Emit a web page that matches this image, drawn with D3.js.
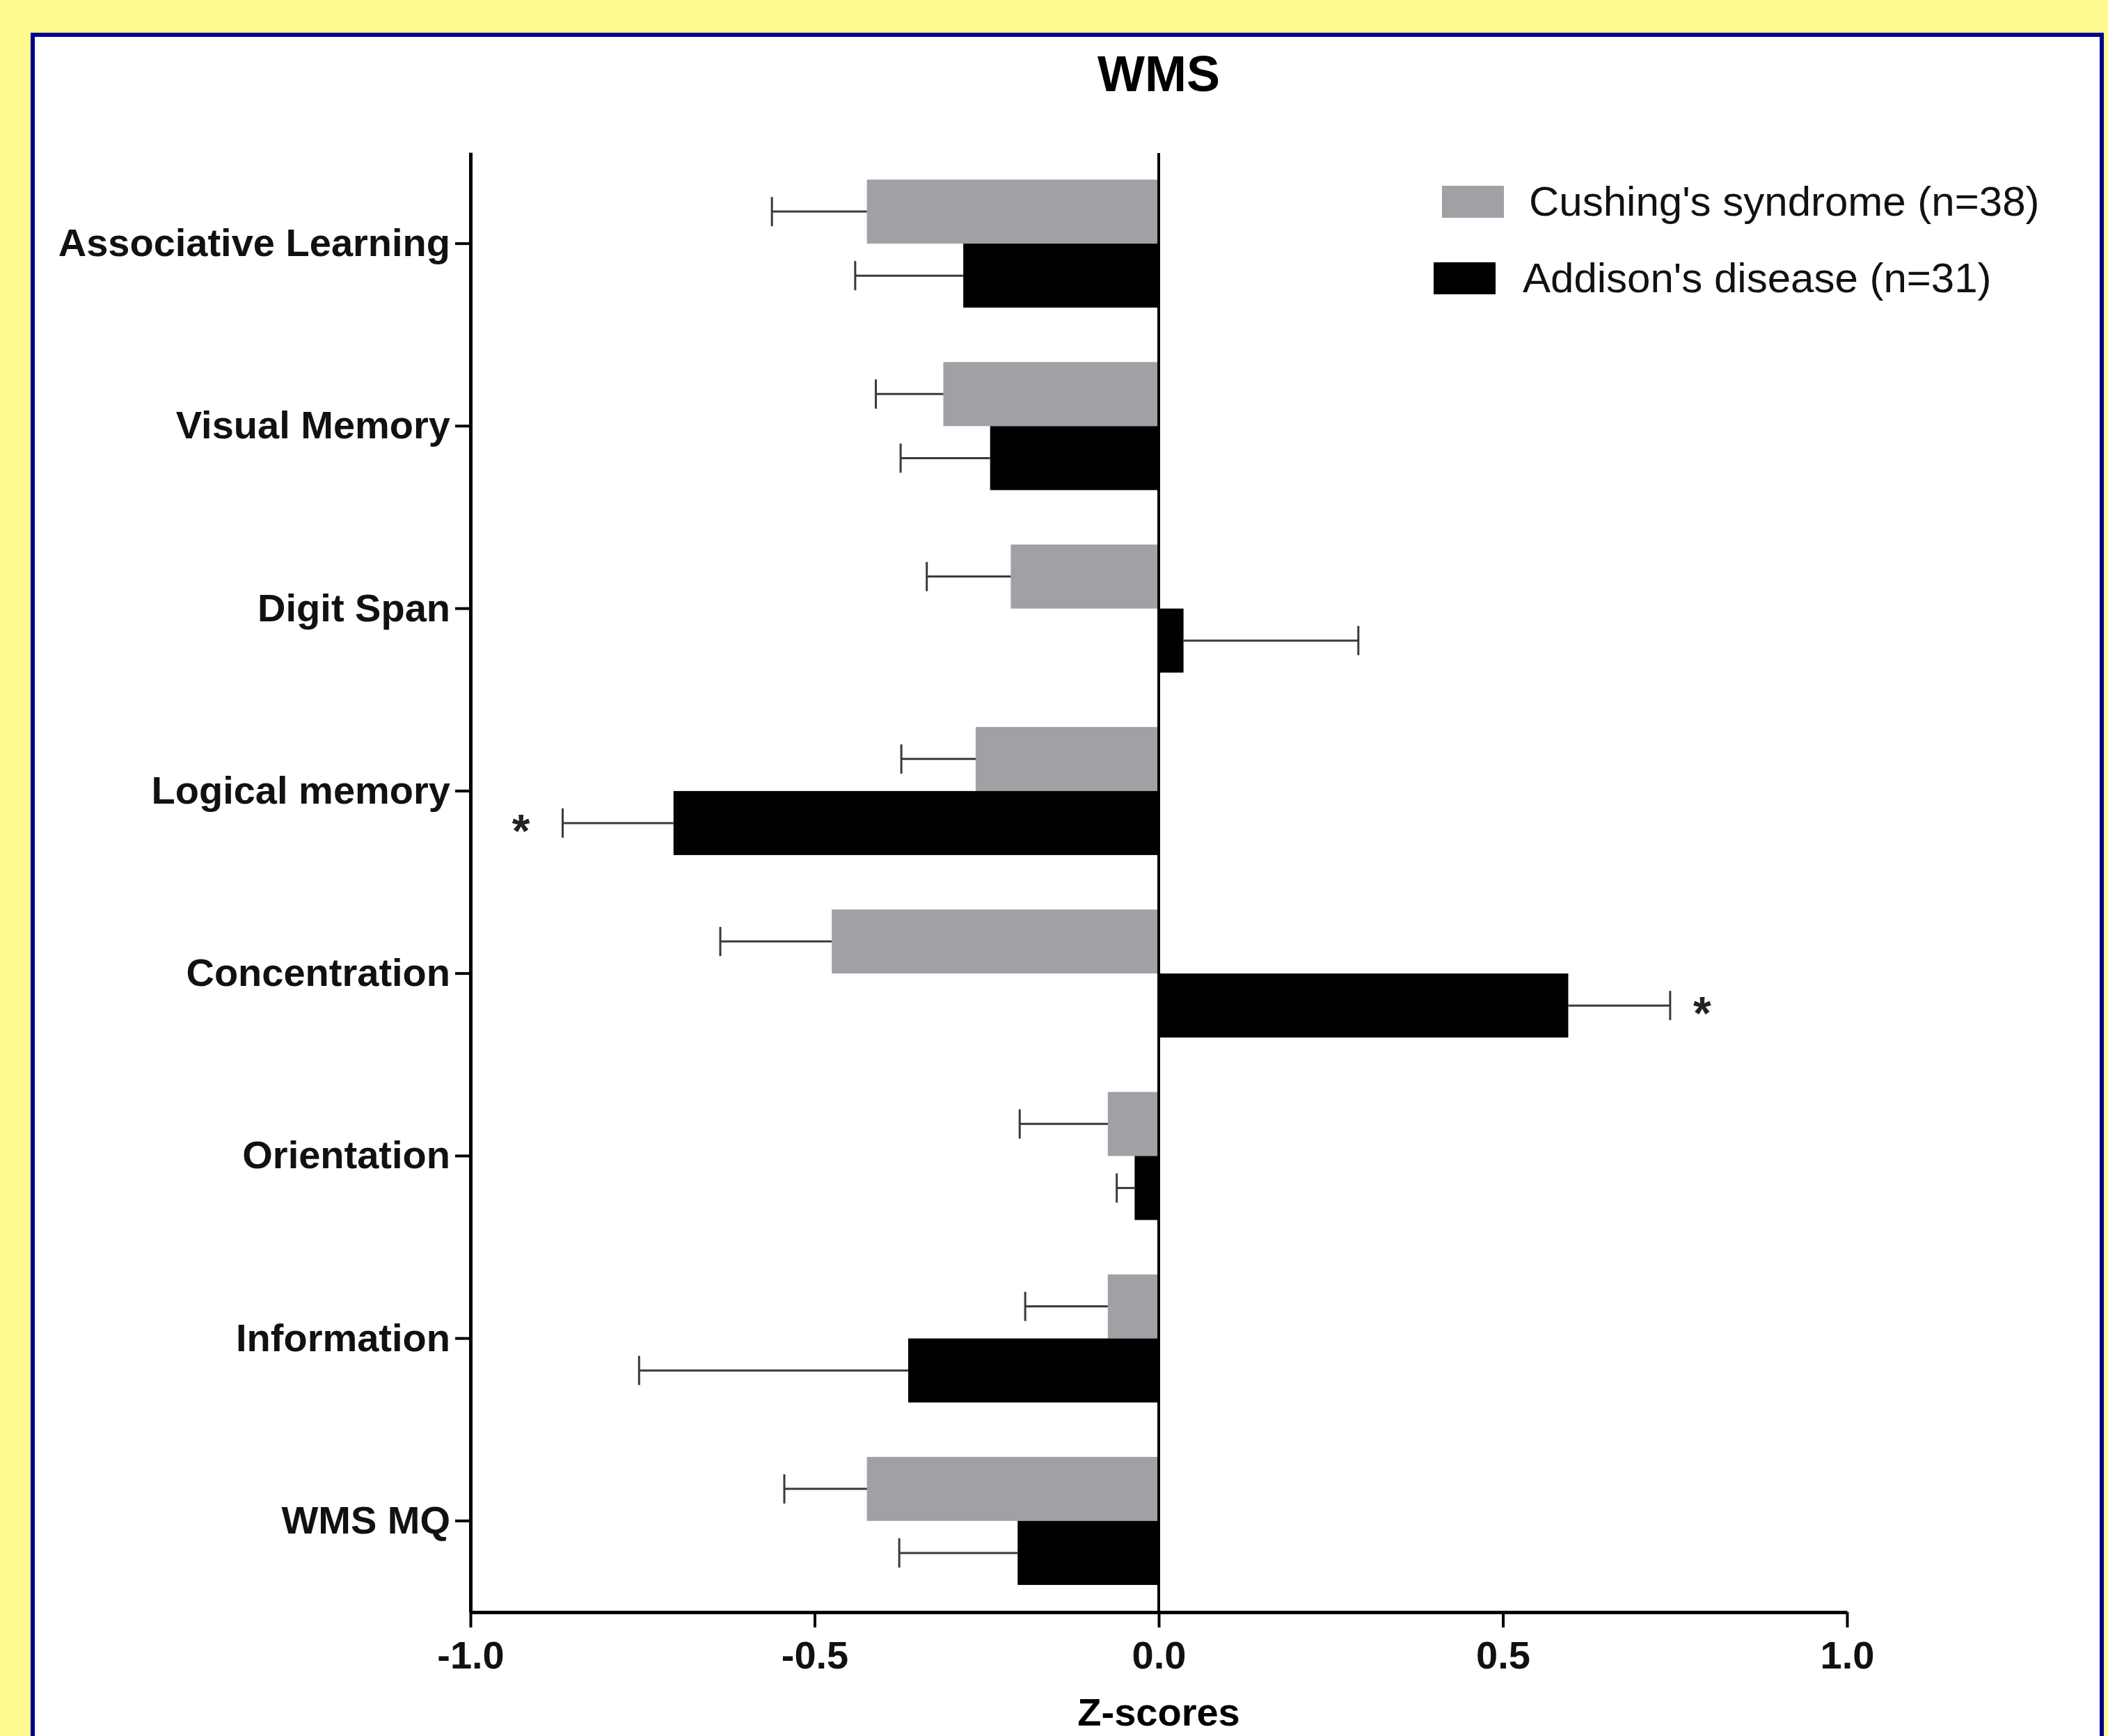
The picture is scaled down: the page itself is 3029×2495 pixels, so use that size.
<!DOCTYPE html>
<html lang="en">
<head>
<meta charset="utf-8">
<script src="https://d3js.org/d3.v7.min.js"></script>
<title>WMS</title>
<style>
  body { margin: 0; background: #fffa90; }
  text { font-family: "Liberation Sans", Arial, Helvetica, sans-serif; }
</style>
</head>
<body>
<script type="text/javascript">

  // Data (Z-scores, mean and error)
  var categories = ["Associative Learning", "Visual Memory", "Digit Span", "Logical memory",
                    "Concentration", "Orientation", "Information", "WMS MQ"];
  var groups = ["Cushing's syndrome (n=38)", "Addison's disease (n=31)"];
  var cushing    = [-0.424, -0.313, -0.215, -0.266, -0.475, -0.074, -0.074, -0.424];
  var cushingErr = [ 0.138,  0.098,  0.122,  0.108,  0.162,  0.128,  0.120,  0.120];
  var addison    = [-0.284, -0.245,  0.036, -0.705,  0.595, -0.035, -0.364, -0.205];
  var addisonErr = [ 0.157,  0.130,  0.254,  0.161,  0.148,  0.026,  0.391,  0.172];
  var addisonSig = ["Logical memory", "Concentration"];
  var xTicks = [-1.0, -0.5, 0.0, 0.5, 1.0];

  var width = 3029, height = 2495;
  var colors = {cushing: "#a1a0a5", addison: "#000000"};

  var svg = d3.select("body").append("svg")
    .attr("width", width)
    .attr("height", height);

  // yellow page + white panel with navy border
  svg.append("rect").attr("width", width).attr("height", height).attr("fill", "#fffa90");
  svg.append("rect")
    .attr("x", 47).attr("y", 50)
    .attr("width", 2973).attr("height", 2600)
    .attr("fill", "#ffffff")
    .attr("stroke", "#00008e")
    .attr("stroke-width", 6);

  var x = d3.scaleLinear().domain([-1, 1]).range([676, 2654]);
  var y = d3.scaleBand().domain(categories).range([219, 2317]);
  var sub = d3.scaleBand().domain(["cushing", "addison"])
    .range([0, y.bandwidth()]).paddingOuter(0.425);

  // build rows
  var rows = [];
  categories.forEach(function(c, i) {
    rows.push({cat: c, key: "cushing", v: cushing[i], e: cushingErr[i], sig: false});
    rows.push({cat: c, key: "addison", v: addison[i], e: addisonErr[i], sig: addisonSig.indexOf(c) >= 0});
  });

  // title
  svg.append("text")
    .attr("x", x(0)).attr("y", 131)
    .attr("text-anchor", "middle")
    .style("font-size", "72px").style("font-weight", "bold")
    .text("WMS");

  // bars
  svg.append("g").selectAll("rect")
    .data(rows)
    .enter().append("rect")
      .attr("x", function(d) { return x(Math.min(0, d.v)); })
      .attr("y", function(d) { return y(d.cat) + sub(d.key); })
      .attr("width", function(d) { return Math.abs(x(d.v) - x(0)); })
      .attr("height", sub.bandwidth())
      .attr("fill", function(d) { return colors[d.key]; });

  // error bars, drawn away from zero
  var errs = svg.append("g").attr("stroke", "#3a3a3a").attr("stroke-width", 3)
    .selectAll("g").data(rows).enter().append("g");

  function endX(d) { return x(d.v + (d.v < 0 ? -d.e : d.e)); }
  function midY(d) { return y(d.cat) + sub(d.key) + sub.bandwidth() / 2; }

  errs.append("line")
    .attr("x1", function(d) { return x(d.v); })
    .attr("x2", endX)
    .attr("y1", midY).attr("y2", midY);
  errs.append("line")
    .attr("x1", endX).attr("x2", endX)
    .attr("y1", function(d) { return midY(d) - 21; })
    .attr("y2", function(d) { return midY(d) + 21; });

  // significance stars
  svg.append("g").selectAll("text")
    .data(rows.filter(function(d) { return d.sig; }))
    .enter().append("text")
      .attr("x", function(d) { return endX(d) + (d.v < 0 ? -60 : 46); })
      .attr("y", function(d) { return midY(d) + 34; })
      .attr("text-anchor", "middle")
      .style("font-size", "66px").style("font-weight", "bold")
      .attr("fill", "#222")
      .text("*");

  // zero line
  svg.append("line")
    .attr("x1", x(0)).attr("x2", x(0))
    .attr("y1", 220).attr("y2", 2317)
    .attr("stroke", "#000").attr("stroke-width", 4);

  // y axis
  var yAxis = svg.append("g")
    .attr("transform", "translate(" + x(-1) + ",0)")
    .call(d3.axisLeft(y).tickSize(22).tickSizeOuter(0).tickPadding(7));
  yAxis.selectAll("text")
    .style("font-size", "56px").style("font-weight", "bold")
    .style("font-family", "'Liberation Sans', Arial, sans-serif")
    .attr("fill", "#111");

  // x axis (plain hyphen for negatives, like the original)
  var xAxis = svg.append("g")
    .attr("transform", "translate(0,2317)")
    .call(d3.axisBottom(x).tickValues(xTicks)
      .tickFormat(function(d) { return d.toFixed(1); })
      .tickSize(22).tickSizeOuter(0).tickPadding(19));
  xAxis.selectAll("text")
    .style("font-size", "56px").style("font-weight", "bold")
    .style("font-family", "'Liberation Sans', Arial, sans-serif")
    .attr("fill", "#111");

  [yAxis, xAxis].forEach(function(a) {
    a.select(".domain").attr("stroke", "#000").attr("stroke-width", 5);
    a.selectAll(".tick line").attr("stroke", "#000").attr("stroke-width", 4);
  });

  // x axis title
  svg.append("text")
    .attr("x", x(0)).attr("y", 2480)
    .attr("text-anchor", "middle")
    .style("font-size", "56px").style("font-weight", "bold")
    .text("Z-scores");

  // legend
  var legend = svg.append("g").selectAll("g")
    .data([{key: "cushing", label: groups[0], rx: 2072, tx: 2197, y: 267},
           {key: "addison", label: groups[1], rx: 2060, tx: 2188, y: 377}])
    .enter().append("g");
  legend.append("rect")
    .attr("x", function(d) { return d.rx; })
    .attr("y", function(d) { return d.y; })
    .attr("width", 89).attr("height", 46)
    .attr("fill", function(d) { return colors[d.key]; });
  legend.append("text")
    .attr("x", function(d) { return d.tx; })
    .attr("y", function(d) { return d.y + 43; })
    .style("font-size", "60px")
    .attr("fill", "#111")
    .text(function(d) { return d.label; });

</script>
</body>
</html>
